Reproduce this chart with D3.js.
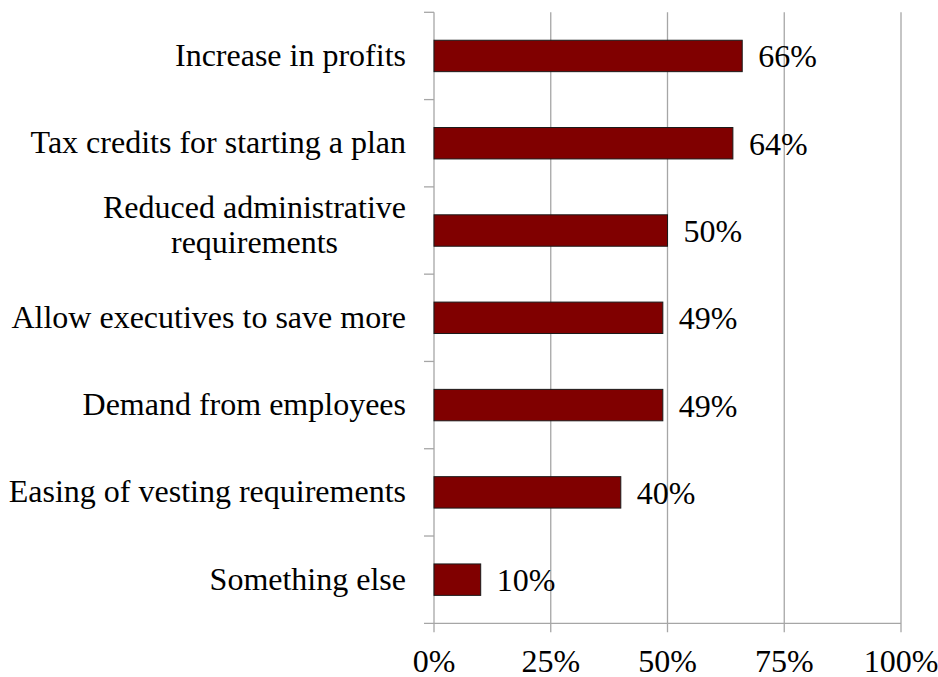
<!DOCTYPE html>
<html><head><meta charset="utf-8">
<script src="https://cdn.jsdelivr.net/npm/d3@7"></script>
<style>body{margin:0;background:#fff}svg{display:block}</style>
</head><body><svg id="c" width="938" height="677" font-family="'Liberation Serif', 'Times New Roman', Times, 'DejaVu Serif', serif"></svg>
<script>
const categories = [["Increase in profits"],["Tax credits for starting a plan"],["Reduced administrative","requirements"],["Allow executives to save more"],["Demand from employees"],["Easing of vesting requirements"],["Something else"]];
const values = [66, 64, 50, 49, 49, 40, 10];
const xTicks = [0, 25, 50, 75, 100];

const svg = d3.select("#c");
const pLeft = 434, pRight = 901, pTop = 12.3, pBottom = 623.3;
const fs = 32;
const x = d3.scaleLinear().domain([0, 100]).range([pLeft, pRight]);
const y = d3.scaleBand().domain(d3.range(categories.length)).range([pTop, pBottom]).paddingInner(0.64).paddingOuter(0.32);

const grid = "#a6a6a6";
// gridlines
svg.append("g").selectAll("line").data(xTicks.slice(1)).join("line")
  .attr("x1", d => x(d)).attr("x2", d => x(d)).attr("y1", pTop).attr("y2", pBottom + 9)
  .attr("stroke", grid).attr("stroke-width", 1.3);
svg.append("line").attr("x1", pLeft).attr("x2", pLeft).attr("y1", pTop).attr("y2", pBottom + 9)
  .attr("stroke", grid).attr("stroke-width", 1.3);
// x axis line
svg.append("line").attr("x1", pLeft - 10).attr("x2", pRight).attr("y1", pBottom).attr("y2", pBottom)
  .attr("stroke", grid).attr("stroke-width", 1.3);
// category boundary ticks
const bounds = d3.range(categories.length).map(i => pTop + i * (pBottom - pTop) / categories.length);
svg.append("g").selectAll("line").data(bounds).join("line")
  .attr("x1", pLeft - 10).attr("x2", pLeft).attr("y1", d => d).attr("y2", d => d)
  .attr("stroke", grid).attr("stroke-width", 1.3);

// bars
svg.append("g").selectAll("rect").data(values).join("rect")
  .attr("x", x(0)).attr("y", (d, i) => y(i))
  .attr("width", d => x(d) - x(0)).attr("height", y.bandwidth())
  .attr("fill", "#800000").attr("stroke", "#1a1a1a").attr("stroke-width", 1);

// value labels
svg.append("g").selectAll("text").data(values).join("text")
  .attr("x", d => x(d) + 16).attr("y", (d, i) => y(i) + y.bandwidth() / 2 + 11.5)
  .attr("font-size", fs).attr("fill", "#000")
  .text(d => d + "%");

// category labels
const cg = svg.append("g");
categories.forEach((lines, i) => {
  const cy = y(i) + y.bandwidth() / 2;
  const n = lines.length;
  const t = cg.append("text").attr("font-size", fs).attr("text-anchor", "middle").attr("fill", "#000");
  lines.forEach((ln, j) => {
    t.append("tspan").attr("x", 0).attr("y", cy + 10 - (n - 1) * 22.5 + j * 35).text(ln);
  });
  const w = t.node().getBBox().width;
  t.selectAll("tspan").attr("x", pLeft - 28 - w / 2);
});

// x tick labels
svg.append("g").selectAll("text").data(xTicks).join("text")
  .attr("x", d => x(d)).attr("y", 672).attr("text-anchor", "middle")
  .attr("font-size", fs).attr("fill", "#000").text(d => d + "%");
</script></body></html>
